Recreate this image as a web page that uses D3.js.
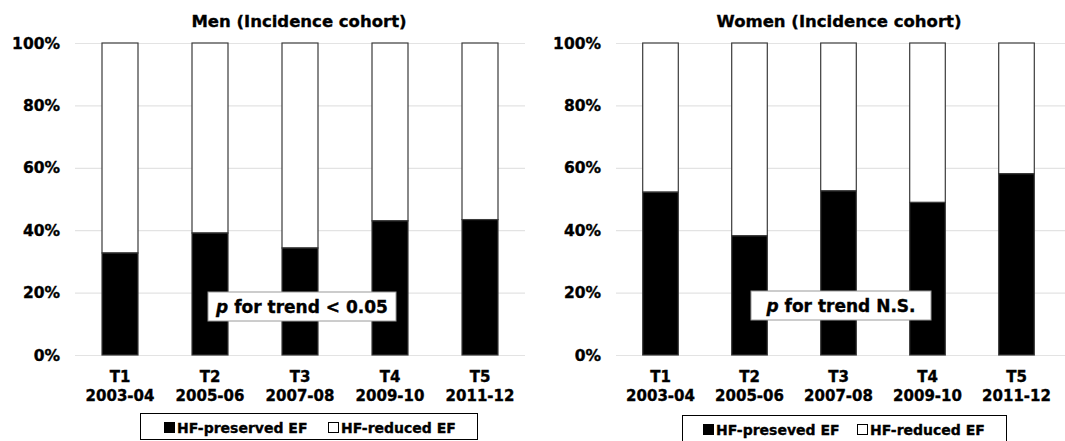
<!DOCTYPE html>
<html>
<head>
<meta charset="utf-8">
<script src="https://cdn.jsdelivr.net/npm/d3@7"></script>
<style>
  html, body { margin: 0; padding: 0; background: #fff; }
  svg { display: block; }
  text { font-family: "DejaVu Sans", Verdana, sans-serif; font-weight: bold; fill: #000; stroke: #000; stroke-width: 0.35px; }
</style>
</head>
<body>
<svg id="chart" width="1065" height="441"></svg>
<script>
// ---- data ----
const categories = ["T1", "T2", "T3", "T4", "T5"];
const periods = ["2003-04", "2005-06", "2007-08", "2009-10", "2011-12"];
const menPreserved = [32.7, 39.1, 34.3, 43.0, 43.4];
const womenPreserved = [52.2, 38.2, 52.6, 48.9, 58.1];
const yTicks = [0, 20, 40, 60, 80, 100];
const titles = ["Men (Incidence cohort)", "Women (Incidence cohort)"];
const trendNotes = ["for trend < 0.05", "for trend N.S."];
const legendLabels = [["HF-preserved EF", "HF-reduced EF"], ["HF-preseved EF", "HF-reduced EF"]];

const svg = d3.select("#chart");

const panels = [
  { values: menPreserved, x0: 75, x1: 525, gridEnd: 525, labelX: 60, titleX: 299,
    note: { x: 208, y: 292, w: 188, h: 29 }, legend: { x: 140, y: 413, w: 337, h: 26, items: [164, 328] } },
  { values: womenPreserved, x0: 616, x1: 1061, gridEnd: 1065, labelX: 601, titleX: 839,
    note: { x: 751, y: 291, w: 180, h: 29 }, legend: { x: 682, y: 415, w: 324, h: 28, items: [703, 857] } }
];

const y = d3.scaleLinear().domain([0, 100]).range([355, 43]);

panels.forEach((p, i) => {
  const g = svg.append("g");
  const x = d3.scaleBand().domain(categories).range([p.x0, p.x1]).paddingInner(0.6).paddingOuter(0.3);

  // title
  g.append("text").attr("x", p.titleX).attr("y", 27).attr("text-anchor", "middle")
    .style("font-size", "16.5px").text(titles[i]);

  // gridlines
  g.selectAll("line.grid").data(yTicks).join("line")
    .attr("x1", p.x0).attr("x2", p.gridEnd)
    .attr("y1", d => y(d) + 0.5).attr("y2", d => y(d) + 0.5)
    .attr("stroke", "#e3e3e3").attr("stroke-width", 1.2);

  // y labels
  g.selectAll("text.ylab").data(yTicks).join("text")
    .attr("x", p.labelX).attr("y", d => y(d)).attr("dy", "0.36em")
    .attr("text-anchor", "end").style("font-size", "15.5px")
    .text(d => d + "%");

  // bars: reduced (top, white)
  g.selectAll("rect.red").data(categories).join("rect")
    .attr("x", d => x(d)).attr("width", x.bandwidth())
    .attr("y", y(100)).attr("height", (d, j) => y(p.values[j]) - y(100))
    .attr("fill", "#fff").attr("stroke", "#3a3a3a").attr("stroke-width", 1.2);
  // preserved (bottom, black)
  g.selectAll("rect.pres").data(categories).join("rect")
    .attr("x", d => x(d)).attr("width", x.bandwidth())
    .attr("y", (d, j) => y(p.values[j])).attr("height", (d, j) => y(0) - y(p.values[j]))
    .attr("fill", "#000").attr("stroke", "#3a3a3a").attr("stroke-width", 1.2);

  // x labels
  const xl = g.selectAll("g.xl").data(categories).join("g")
    .attr("transform", d => `translate(${x(d) + x.bandwidth() / 2},0)`);
  xl.append("text").attr("y", 382).attr("text-anchor", "middle").style("font-size", "15px").text(d => d);
  xl.append("text").attr("y", 401).attr("text-anchor", "middle").style("font-size", "15px").text((d, j) => periods[j]);

  // trend note
  g.append("rect").attr("x", p.note.x).attr("y", p.note.y).attr("width", p.note.w).attr("height", p.note.h)
    .attr("fill", "#fff").attr("stroke", "#9a9a9a").attr("stroke-width", 1);
  const t = g.append("text").attr("x", p.note.x + p.note.w / 2).attr("y", p.note.y + p.note.h / 2)
    .attr("dy", "0.36em").attr("text-anchor", "middle").style("font-size", "17px");
  t.append("tspan").style("font-style", "italic").text("p");
  t.append("tspan").text(" " + trendNotes[i]);

  // legend
  const L = p.legend;
  g.append("rect").attr("x", L.x + 0.5).attr("y", L.y + 0.5).attr("width", L.w).attr("height", L.h)
    .attr("fill", "#fff").attr("stroke", "#000").attr("stroke-width", 1);
  L.items.forEach((lx, k) => {
    g.append("rect").attr("x", lx + 0.5).attr("y", L.y + 9.5).attr("width", 10).attr("height", 10)
      .attr("fill", k === 0 ? "#000" : "#fff").attr("stroke", "#000").attr("stroke-width", 1);
    g.append("text").attr("x", lx + 13).attr("y", L.y + 14.5).attr("dy", "0.36em")
      .style("font-size", "14px").text(legendLabels[i][k]);
  });
});
</script>
</body>
</html>
